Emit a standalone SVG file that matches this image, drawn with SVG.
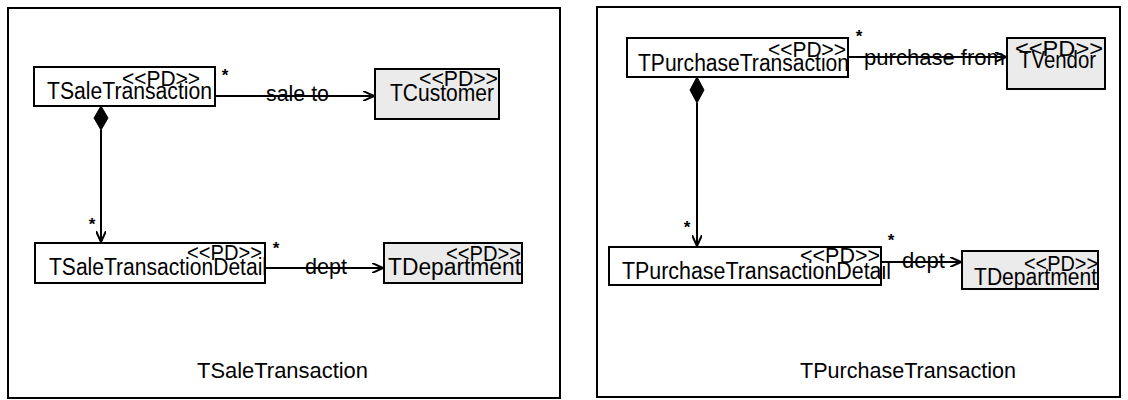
<svg xmlns="http://www.w3.org/2000/svg" width="1128" height="400" viewBox="0 0 1128 400">
<style>
  text { font-family: "Liberation Sans", Arial, sans-serif; fill: #000; }
  .t { font-size: 23px; }
  .st { font-size: 22px; }
  .lbl { font-size: 22px; }
  .title { font-size: 22px; }
  .star { font-size: 17px; text-anchor: middle; font-weight: bold; }
  .box { fill: #ffffff; stroke: #000; stroke-width: 2; }
  .gbox { fill: #ebebeb; stroke: #000; stroke-width: 2; }
  .frame { fill: none; stroke: #000; stroke-width: 2; }
  .edge { fill: none; stroke: #000; stroke-width: 2; }
  .dia { fill: #000; stroke: #000; stroke-width: 1; }
</style>
<defs>
  <marker id="arrow" viewBox="0 0 12 10" refX="11" refY="5" markerWidth="12" markerHeight="10" markerUnits="userSpaceOnUse" orient="auto">
    <path d="M0,0 L11,5 L0,10" fill="none" stroke="#000" stroke-width="2"/>
  </marker>
</defs>
<rect width="1128" height="400" fill="#ffffff"/>

<g id="panel-sale">
  <rect class="frame" x="8" y="8" width="552" height="390"/>
  <text class="title" x="197" y="378" textLength="171" lengthAdjust="spacingAndGlyphs">TSaleTransaction</text>
</g>
<g id="panel-purchase">
  <rect class="frame" x="597" y="7" width="523" height="390"/>
  <text class="title" x="800" y="378" textLength="216" lengthAdjust="spacingAndGlyphs">TPurchaseTransaction</text>
</g>

<g id="connectors">
  <line class="edge" x1="215" y1="96" x2="374" y2="96" marker-end="url(#arrow)"/>
  <text class="lbl" x="266" y="101" textLength="63" lengthAdjust="spacingAndGlyphs">sale to</text>
  <text class="star" x="225" y="81">*</text>
  <polygon class="dia" points="101,106 108,118 101,130 94,118"/>
  <line class="edge" x1="101" y1="130" x2="101" y2="242" marker-end="url(#arrow)"/>
  <text class="star" x="92" y="230">*</text>
  <line class="edge" x1="265" y1="268" x2="383" y2="268" marker-end="url(#arrow)"/>
  <text class="lbl" x="305" y="274" textLength="42" lengthAdjust="spacingAndGlyphs">dept</text>
  <text class="star" x="276" y="254">*</text>

  <line class="edge" x1="848" y1="57" x2="1006" y2="57" marker-end="url(#arrow)"/>
  <text class="lbl" x="864" y="65" textLength="141" lengthAdjust="spacingAndGlyphs">purchase from</text>
  <text class="star" x="859" y="42">*</text>
  <polygon class="dia" points="697,77 704,90 697,103 690,90"/>
  <line class="edge" x1="697" y1="103" x2="697" y2="246" marker-end="url(#arrow)"/>
  <text class="star" x="687" y="233">*</text>
  <line class="edge" x1="881" y1="262" x2="961" y2="262" marker-end="url(#arrow)"/>
  <text class="lbl" x="902" y="268" textLength="43" lengthAdjust="spacingAndGlyphs">dept</text>
  <text class="star" x="891" y="246">*</text>
</g>

<g id="TSaleTransaction">
  <rect class="box" x="34" y="67" width="181" height="39"/>
  <text class="st" x="122" y="86" textLength="78" lengthAdjust="spacingAndGlyphs">&lt;&lt;PD&gt;&gt;</text>
  <text class="t" x="47" y="99" textLength="165" lengthAdjust="spacingAndGlyphs">TSaleTransaction</text>
</g>
<g id="TCustomer">
  <rect class="gbox" x="375" y="69" width="124" height="50"/>
  <text class="st" x="419" y="86" textLength="79" lengthAdjust="spacingAndGlyphs">&lt;&lt;PD&gt;&gt;</text>
  <text class="t" x="390" y="101" textLength="104" lengthAdjust="spacingAndGlyphs">TCustomer</text>
</g>
<g id="TSaleTransactionDetail">
  <rect class="box" x="35" y="243" width="230" height="40"/>
  <text class="st" x="187" y="260" textLength="75" lengthAdjust="spacingAndGlyphs">&lt;&lt;PD&gt;&gt;</text>
  <text class="t" x="49" y="275" textLength="218" lengthAdjust="spacingAndGlyphs">TSaleTransactionDetail</text>
</g>
<g id="TDepartment-sale">
  <rect class="gbox" x="384" y="243" width="138" height="40"/>
  <text class="st" x="446" y="261" textLength="75" lengthAdjust="spacingAndGlyphs">&lt;&lt;PD&gt;&gt;</text>
  <text class="t" x="388" y="275" textLength="133" lengthAdjust="spacingAndGlyphs">TDepartment</text>
</g>

<g id="TPurchaseTransaction">
  <rect class="box" x="627" y="38" width="221" height="39"/>
  <text class="st" x="768" y="57" textLength="78" lengthAdjust="spacingAndGlyphs">&lt;&lt;PD&gt;&gt;</text>
  <text class="t" x="638" y="71" textLength="211" lengthAdjust="spacingAndGlyphs">TPurchaseTransaction</text>
</g>
<g id="TVendor">
  <rect class="gbox" x="1007" y="38" width="98" height="51"/>
  <text class="st" x="1015" y="56" textLength="88" lengthAdjust="spacingAndGlyphs">&lt;&lt;PD&gt;&gt;</text>
  <text class="t" x="1019" y="68" textLength="77" lengthAdjust="spacingAndGlyphs">TVendor</text>
</g>
<g id="TPurchaseTransactionDetail">
  <rect class="box" x="609" y="247" width="272" height="38"/>
  <text class="st" x="800" y="263" textLength="80" lengthAdjust="spacingAndGlyphs">&lt;&lt;PD&gt;&gt;</text>
  <text class="t" x="622" y="279" textLength="269" lengthAdjust="spacingAndGlyphs">TPurchaseTransactionDetail</text>
</g>
<g id="TDepartment-purchase">
  <rect class="gbox" x="962" y="251" width="136" height="38"/>
  <text class="st" x="1024" y="271" textLength="74" lengthAdjust="spacingAndGlyphs">&lt;&lt;PD&gt;&gt;</text>
  <text class="t" x="974" y="285" textLength="123" lengthAdjust="spacingAndGlyphs">TDepartment</text>
</g>
</svg>
